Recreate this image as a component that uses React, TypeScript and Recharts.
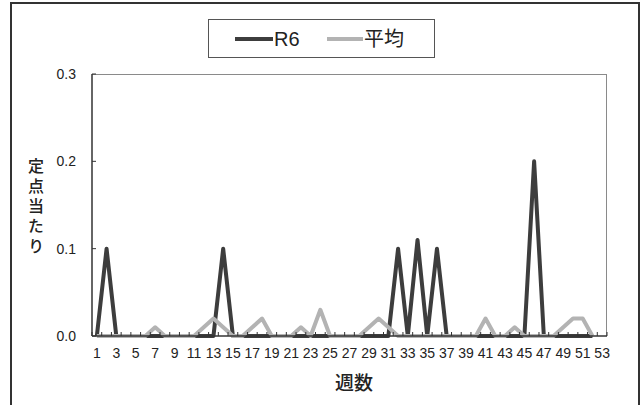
import { Legend, Line, LineChart, XAxis, YAxis } from "recharts";

// weekly per-sentinel counts, R6 vs average of past years
const weeks = [
  1, 2, 3, 4, 5, 6, 7, 8, 9, 10, 11, 12, 13, 14, 15, 16, 17, 18, 19, 20, 21, 22, 23, 24, 25, 26, 27,
  28, 29, 30, 31, 32, 33, 34, 35, 36, 37, 38, 39, 40, 41, 42, 43, 44, 45, 46, 47, 48, 49, 50, 51, 52, 53
];

const r6Values = [
  0, 0.1, 0, 0, 0, 0, 0, 0, 0, 0, 0, 0, 0, 0.1, 0, 0, 0, 0, 0, 0, 0, 0, 0, 0, 0, 0, 0,
  0, 0, 0, 0, 0.1, 0, 0.11, 0, 0.1, 0, 0, 0, 0, 0, 0, 0, 0, 0, 0.2, 0, 0, 0, 0, 0, 0, null
];

const avgValues = [
  0, 0, 0, 0, 0, 0, 0.01, 0, 0, 0, 0, 0.01, 0.02, 0.01, 0, 0, 0.01, 0.02, 0, 0, 0, 0.01, 0, 0.03, 0, 0, 0,
  0, 0.01, 0.02, 0.01, 0, 0, 0, 0, 0, 0, 0, 0, 0, 0.02, 0, 0, 0.01, 0, 0, 0, 0, 0.01, 0.02, 0.02, 0, null
];

const yTicks = [0, 0.1, 0.2, 0.3];
const yTitle = "定点当たり";
const xTitle = "週数";

const seriesNames = { r6: "R6", avg: "平均" };
const COLOR_R6 = "#3d3d3d";
const COLOR_AVG = "#b3b3b3";

const W = 643;
const H = 405;
const PLOT_LEFT = 92;
const PLOT_RIGHT = 607;
const PLOT_TOP = 74;
const PLOT_BOTTOM = 336;
const BAND = (PLOT_RIGHT - PLOT_LEFT) / weeks.length;
const HALF = BAND / 2;

const LATIN = "'Liberation Sans', Arial, sans-serif";
const CJK = "'Noto Sans CJK JP', sans-serif";

const chartData = weeks.map((w, i) => ({
  week: String(w),
  r6: r6Values[i],
  avg: avgValues[i]
}));

function XTick(props: any) {
  const { x, payload, index } = props;
  const wk = Number(payload.value);
  return (
    <g>
      <line x1={x - HALF} x2={x - HALF} y1={PLOT_BOTTOM} y2={PLOT_BOTTOM - 4} stroke="#333" />
      {index === weeks.length - 1 && (
        <line x1={x + HALF} x2={x + HALF} y1={PLOT_BOTTOM} y2={PLOT_BOTTOM - 4} stroke="#333" />
      )}
      {wk % 2 === 1 && (
        <text x={x} y={PLOT_BOTTOM + 22} textAnchor="middle" fontSize={14} fontFamily={LATIN} fill="#222">
          {payload.value}
        </text>
      )}
    </g>
  );
}

function YTick(props: any) {
  const { y, payload } = props;
  return (
    <g>
      <line x1={PLOT_LEFT} x2={PLOT_LEFT + 4} y1={y} y2={y} stroke="#333" />
      <text x={76} y={y + 5} textAnchor="end" fontSize={14} fontFamily={LATIN} fill="#222">
        {Number(payload.value).toFixed(1)}
      </text>
    </g>
  );
}

function LegendBox() {
  return (
    <div
      style={{
        width: 227,
        height: 39,
        boxSizing: "border-box",
        border: "1px solid #555",
        background: "#fff",
        position: "relative"
      }}
    >
      <svg width={225} height={37} style={{ position: "absolute", left: 0, top: 0 }}>
        <line x1={26} x2={64} y1={19} y2={19} stroke={COLOR_R6} strokeWidth={4} />
        <text x={65} y={26} fontSize={20} fontFamily={LATIN} fill="#222">
          {seriesNames.r6}
        </text>
        <line x1={118} x2={154} y1={19} y2={19} stroke={COLOR_AVG} strokeWidth={4} />
        <text x={155} y={26} fontSize={20} fontFamily={CJK} fill="#222">
          {seriesNames.avg}
        </text>
      </svg>
    </div>
  );
}

export default function App() {
  return (
    <div
      style={{
        position: "absolute",
        left: 0,
        top: 0,
        width: W,
        height: H,
        overflow: "hidden",
        background: "#fff"
      }}
    >
      <div
        style={{
          position: "absolute",
          left: 10,
          top: 2,
          width: 630,
          height: 440,
          boxSizing: "border-box",
          border: "2px solid #333"
        }}
      />
      {/* plot area frame: thin grey top and right edges */}
      <div
        style={{
          position: "absolute",
          left: PLOT_LEFT,
          top: PLOT_TOP,
          width: PLOT_RIGHT - PLOT_LEFT,
          height: PLOT_BOTTOM - PLOT_TOP,
          boxSizing: "border-box",
          borderTop: "1px solid #8a8a8a",
          borderRight: "1px solid #8a8a8a"
        }}
      />
      <LineChart
        width={W}
        height={H}
        data={chartData}
        margin={{ top: PLOT_TOP, right: W - PLOT_RIGHT, left: 0, bottom: 0 }}
        style={{ position: "absolute", left: 0, top: 0 }}
      >
        <XAxis
          dataKey="week"
          type="category"
          interval={0}
          height={H - PLOT_BOTTOM}
          padding={{ left: HALF, right: HALF }}
          tickLine={false}
          axisLine={{ stroke: "#333", strokeWidth: 1.5 }}
          tick={<XTick />}
        />
        <YAxis
          width={PLOT_LEFT}
          domain={[0, 0.3]}
          ticks={yTicks}
          tickLine={false}
          axisLine={{ stroke: "#333", strokeWidth: 1.5 }}
          tick={<YTick />}
          interval={0}
        />
        <Legend
          verticalAlign="middle"
          align="center"
          content={<LegendBox />}
          wrapperStyle={{ left: 208, top: 19, width: 227, height: 39 }}
        />
        <Line
          dataKey="r6"
          name={seriesNames.r6}
          stroke={COLOR_R6}
          strokeWidth={4}
          strokeLinejoin="round"
          dot={false}
          isAnimationActive={false}
        />
        <Line
          dataKey="avg"
          name={seriesNames.avg}
          stroke={COLOR_AVG}
          strokeWidth={4}
          strokeLinejoin="round"
          dot={false}
          isAnimationActive={false}
        />
      </LineChart>
      <div
        style={{
          position: "absolute",
          left: 25,
          top: 158,
          writingMode: "vertical-rl",
          fontFamily: CJK,
          fontSize: 16,
          fontWeight: 500,
          letterSpacing: "4px",
          lineHeight: "22px",
          color: "#222"
        }}
      >
        {yTitle}
      </div>
      <div
        style={{
          position: "absolute",
          left: 314,
          top: 369,
          width: 80,
          textAlign: "center",
          fontFamily: CJK,
          fontSize: 19,
          fontWeight: 500,
          lineHeight: "26px",
          color: "#222"
        }}
      >
        {xTitle}
      </div>
    </div>
  );
}
